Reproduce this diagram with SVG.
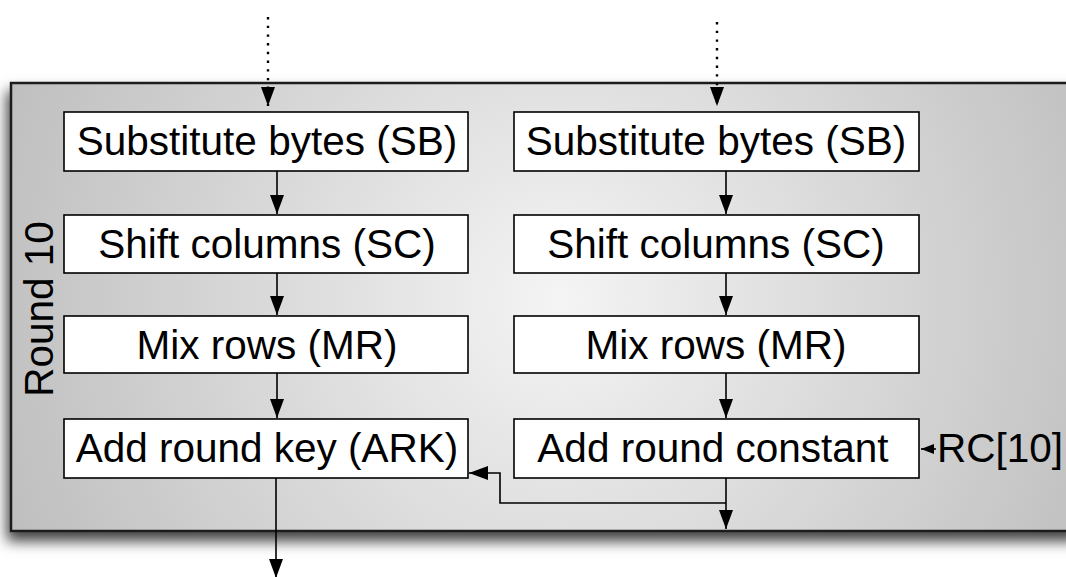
<svg xmlns="http://www.w3.org/2000/svg" width="1066" height="577" viewBox="0 0 1066 577">
  <style>
    .box { fill: #ffffff; stroke: #000000; stroke-width: 1.6; }
    .label { font-family: "Liberation Sans", Arial, sans-serif; font-size: 40.5px; fill: #000000; text-anchor: middle; }
    .edge { fill: none; stroke: #000000; stroke-width: 1.6; }
    .dotted { fill: none; stroke: #000000; stroke-width: 2.4; stroke-dasharray: 2.4 6.3; }
  </style>
  <defs>
    <radialGradient id="panelFill" gradientUnits="userSpaceOnUse" cx="560" cy="300" r="600">
      <stop offset="0" stop-color="#f4f4f4"/>
      <stop offset="1" stop-color="#bebebe"/>
    </radialGradient>
    <filter id="panelShadow" x="-10%" y="-10%" width="120%" height="130%">
      <feDropShadow dx="-3" dy="9" stdDeviation="7" flood-color="#000000" flood-opacity="0.75"/>
    </filter>
    <marker id="head" markerUnits="userSpaceOnUse" markerWidth="22" markerHeight="16" refX="19" refY="7" orient="auto">
      <path d="M0,0 L19,7 L0,14 Z" fill="#000000"/>
    </marker>
    <marker id="headSmall" markerUnits="userSpaceOnUse" markerWidth="14" markerHeight="12" refX="13" refY="5" orient="auto">
      <path d="M0,0 L13,5 L0,10 Z" fill="#000000"/>
    </marker>
  </defs>

  <!-- round panel -->
  <g id="round-panel">
    <rect x="11" y="83" width="1070" height="448" fill="url(#panelFill)" stroke="#1a1a1a" stroke-width="2.5" filter="url(#panelShadow)"/>
    <text class="label" transform="translate(53,309) rotate(-90)">Round 10</text>
  </g>

  <!-- left column: state path -->
  <g id="sb-left">
    <rect class="box" x="64" y="112" width="404" height="59"/>
    <text class="label" x="267" y="155">Substitute bytes (SB)</text>
  </g>
  <g id="sc-left">
    <rect class="box" x="64" y="215" width="404" height="58"/>
    <text class="label" x="267" y="258">Shift columns (SC)</text>
  </g>
  <g id="mr-left">
    <rect class="box" x="64" y="316" width="404" height="57"/>
    <text class="label" x="267" y="359">Mix rows (MR)</text>
  </g>
  <g id="ark-left">
    <rect class="box" x="64" y="419" width="404" height="59"/>
    <text class="label" x="267" y="462">Add round key (ARK)</text>
  </g>

  <!-- right column: key path -->
  <g id="sb-right">
    <rect class="box" x="514" y="112" width="405" height="59"/>
    <text class="label" x="716" y="155">Substitute bytes (SB)</text>
  </g>
  <g id="sc-right">
    <rect class="box" x="514" y="215" width="405" height="58"/>
    <text class="label" x="716" y="258">Shift columns (SC)</text>
  </g>
  <g id="mr-right">
    <rect class="box" x="514" y="316" width="405" height="57"/>
    <text class="label" x="716" y="359">Mix rows (MR)</text>
  </g>
  <g id="arc-right">
    <rect class="box" x="514" y="419" width="405" height="59"/>
    <text class="label" x="713" y="462">Add round constant</text>
  </g>

  <g id="rc-input">
    <text class="label" x="937" y="462" style="text-anchor:start">RC[10]</text>
  </g>

  <!-- connectors -->
  <g id="connectors">
    <line class="dotted" x1="268" y1="17" x2="268" y2="106" marker-end="url(#head)"/>
    <line class="dotted" x1="717" y1="22" x2="717" y2="106" marker-end="url(#head)"/>

    <line class="edge" x1="277" y1="171" x2="277" y2="214" marker-end="url(#head)"/>
    <line class="edge" x1="277" y1="273" x2="277" y2="315" marker-end="url(#head)"/>
    <line class="edge" x1="277" y1="373" x2="277" y2="418" marker-end="url(#head)"/>
    <line class="edge" x1="276" y1="478" x2="276" y2="578" marker-end="url(#head)"/>

    <line class="edge" x1="726" y1="171" x2="726" y2="214" marker-end="url(#head)"/>
    <line class="edge" x1="726" y1="273" x2="726" y2="315" marker-end="url(#head)"/>
    <line class="edge" x1="726" y1="373" x2="726" y2="418" marker-end="url(#head)"/>
    <line class="edge" x1="726" y1="478" x2="726" y2="529" marker-end="url(#head)"/>
    <polyline class="edge" points="726,503 500,503 500,473 469,473" marker-end="url(#head)"/>

    <line class="edge" x1="936" y1="449" x2="921" y2="449" marker-end="url(#headSmall)"/>
  </g>
</svg>
